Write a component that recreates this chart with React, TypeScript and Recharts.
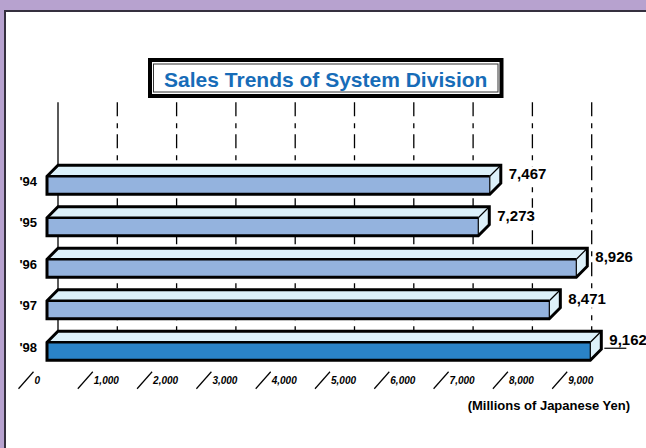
import { BarChart, Bar, XAxis, YAxis, CartesianGrid, LabelList } from 'recharts';

const years = ["'94", "'95", "'96", "'97", "'98"];
const sales = [7467, 7273, 8926, 8471, 9162];
const xTicks = [0, 1000, 2000, 3000, 4000, 5000, 6000, 7000, 8000, 9000];
const title = 'Sales Trends of System Division';
const unitLabel = '(Millions of Japanese Yen)';

const data = years.map((year, i) => ({ year, sales: sales[i] }));

const FONT = '"Liberation Sans", Arial, Helvetica, sans-serif';
const DEPTH = 11; // 3d offset of the bars (px)
const LIGHT_FACE = '#DDF1FA';
const FRONT_FACE = '#94B3DE';
const FRONT_LAST = '#2A83C7';

function Bar3D(props: any) {
  const { x, y, width, height, index } = props;
  const d = DEPTH;
  const front = index === years.length - 1 ? FRONT_LAST : FRONT_FACE;
  const outline = [
    [x, y + height],
    [x, y],
    [x + d, y - d],
    [x + width + d, y - d],
    [x + width + d, y + height - d],
    [x + width, y + height],
  ]
    .map((p) => p.join(','))
    .join(' ');
  return (
    <g>
      <polygon points={`${x},${y} ${x + d},${y - d} ${x + width + d},${y - d} ${x + width},${y}`} fill={LIGHT_FACE} />
      <polygon
        points={`${x + width},${y} ${x + width + d},${y - d} ${x + width + d},${y + height - d} ${x + width},${y + height}`}
        fill={LIGHT_FACE}
      />
      <rect x={x} y={y} width={width} height={height} fill={front} />
      <line x1={x} y1={y} x2={x + width} y2={y} stroke="#000" strokeWidth={2.5} />
      <line x1={x + width} y1={y} x2={x + width + d} y2={y - d} stroke="#000" strokeWidth={1.2} />
      <line x1={x + width} y1={y} x2={x + width} y2={y + height} stroke="#000" strokeWidth={1.2} />
      <polygon points={outline} fill="none" stroke="#000" strokeWidth={3} />
    </g>
  );
}

function GridLine(props: any) {
  const { x1, y1, y2, index } = props;
  const gx = x1 + DEPTH;
  return (
    <line
      x1={gx}
      x2={gx}
      y1={y1 - 62}
      y2={y2 - 23}
      stroke="#000"
      strokeWidth={1.3}
      strokeDasharray={index === 0 ? undefined : '14 7 5 6'}
    />
  );
}

function XTick(props: any) {
  const { x, y, payload } = props;
  const top = x - 13.5;
  return (
    <g>
      <line x1={top} y1={y} x2={top - 15} y2={y + 17} stroke="#000" strokeWidth={1.2} />
      <text x={top + 1} y={y + 12} fontFamily={FONT} fontSize={10} fontWeight="bold" fontStyle="italic" fill="#000">
        {Number(payload.value).toLocaleString('en-US')}
      </text>
    </g>
  );
}

function YTick(props: any) {
  const { x, y, payload } = props;
  return (
    <text x={x} y={y + 0.5} textAnchor="end" fontFamily={FONT} fontSize={13} fontWeight="bold" fill="#000">
      {payload.value}
    </text>
  );
}

function ValueLabel(props: any) {
  const { x, y, width, height, value, index } = props;
  const lx = x + width + DEPTH + 8;
  const ly = y + height / 2 - 6;
  const txt = Number(value).toLocaleString('en-US');
  return (
    <g>
      <rect x={lx - 2} y={ly - 13} width={txt.length * 8 + 4} height={17} fill="#fff" />
      <text x={lx} y={ly} fontFamily={FONT} fontSize={15} fontWeight="bold" fill="#000">
        {txt}
      </text>
      {index === years.length - 1 && (
        <line x1={lx - 5} x2={lx + 17} y1={ly + 3} y2={ly + 3} stroke="#000" strokeWidth={1.2} />
      )}
    </g>
  );
}

export default function App() {
  return (
    <div style={{ position: 'absolute', left: 0, top: 0, width: 646, height: 448, background: '#B7A2CF', overflow: 'hidden' }}>
      <div
        style={{
          position: 'absolute',
          left: 4,
          top: 10,
          width: 650,
          height: 450,
          background: '#fff',
          borderTop: '2px solid #35303F',
          borderLeft: '2px solid #35303F',
        }}
      />
      <div style={{ position: 'absolute', left: 0, top: 0 }}>
        <BarChart
          width={646}
          height={448}
          data={data}
          layout="vertical"
          margin={{ top: 164.25, right: 6, bottom: 46.25, left: 0 }}
          barSize={18}
        >
          <CartesianGrid horizontal={false} vertical={GridLine} />
          <XAxis
            type="number"
            domain={[0, 10000]}
            ticks={xTicks}
            interval={0}
            height={30}
            axisLine={false}
            tickLine={false}
            tickSize={0}
            tickMargin={0}
            tick={XTick}
          />
          <YAxis
            type="category"
            dataKey="year"
            width={47}
            axisLine={false}
            tickLine={false}
            tickSize={0}
            tickMargin={10}
            tick={YTick}
          />
          <Bar dataKey="sales" shape={Bar3D} isAnimationActive={false}>
            <LabelList dataKey="sales" content={ValueLabel} />
          </Bar>
        </BarChart>
      </div>
      <svg width={646} height={448} style={{ position: 'absolute', left: 0, top: 0, pointerEvents: 'none' }}>
        <rect x={150} y={60} width={351.5} height={36} fill="#fff" stroke="#000" strokeWidth={4} />
        <rect x={153.5} y={64} width={344.5} height={28} fill="none" stroke="#333" strokeWidth={1} />
        <text x={325.75} y={86.5} textAnchor="middle" fontFamily={FONT} fontSize={21} fontWeight="bold" fill="#176CB8">
          {title}
        </text>
        <text x={630} y={410} textAnchor="end" fontFamily={FONT} fontSize={13} fontWeight="bold" fill="#000">
          {unitLabel}
        </text>
      </svg>
    </div>
  );
}
